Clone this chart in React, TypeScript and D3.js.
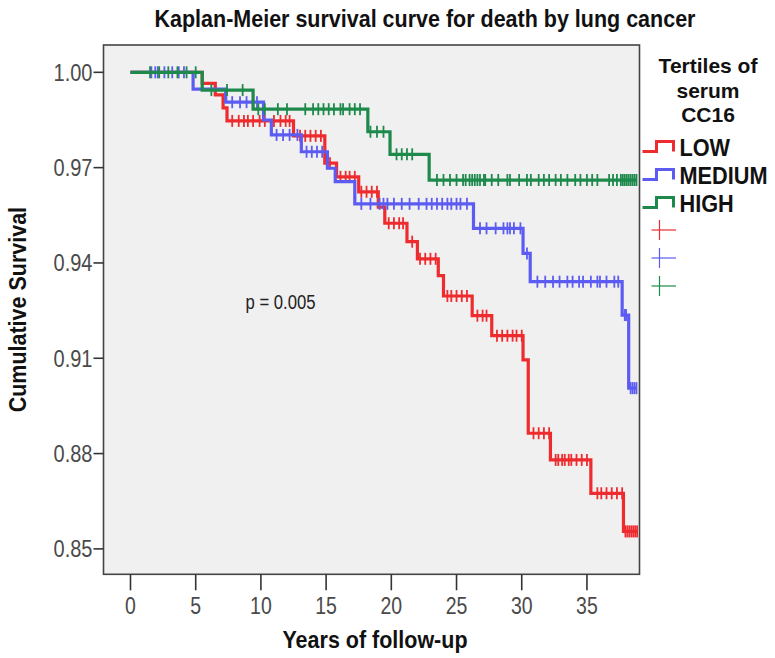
import React from 'react';
import * as d3 from 'd3';

// Kaplan-Meier: event times (years) and survival after each drop, per tertile
const lowTimes = [5.5, 6.5, 7.1, 7.4, 12.5, 14.9, 15.8, 17.5, 19.0, 19.5, 21.2, 22.0, 23.6, 24.0, 26.2, 27.7, 30.1, 30.5, 32.2, 35.3, 37.8];
const lowSurv = [0.9965, 0.9929, 0.9888, 0.9847, 0.980, 0.9714, 0.9671, 0.9624, 0.9576, 0.9525, 0.9467, 0.9413, 0.936, 0.9296, 0.9234, 0.9171, 0.9095, 0.8864, 0.878, 0.8675, 0.8555];
const lowEnd = 38.9;
const lowCensor = [7.8, 8.3, 8.7, 9.0, 9.4, 9.9, 10.3, 11.0, 11.5, 11.9, 12.2, 13.0, 13.4, 13.8, 14.2, 14.6, 15.3, 16.1, 16.5, 16.8, 17.2,
  17.7, 18.1, 18.5, 18.9, 19.8, 20.2, 20.6, 20.9, 21.6, 22.2, 22.6, 23.0, 23.4, 24.3, 24.6, 25.0, 25.4, 25.8, 26.6, 27.0, 27.3,
  28.1, 28.5, 28.9, 29.3, 29.6, 30.0, 30.9, 31.3, 31.7, 32.1, 32.6, 32.8, 33.1, 33.3, 33.6, 33.8, 34.2, 34.6, 35.0,
  35.8, 36.1, 36.5, 36.9, 37.3, 37.7, 37.95, 38.1, 38.25, 38.4, 38.55, 38.7, 38.85];

const medTimes = [4.8, 7.3, 10.2, 10.8, 13.1, 15.1, 15.7, 17.2, 26.3, 30.1, 30.65, 37.7, 38.2];
const medSurv = [0.9947, 0.9906, 0.985, 0.9803, 0.975, 0.9698, 0.9656, 0.9586, 0.9509, 0.943, 0.9341, 0.9236, 0.9006];
const medEnd = 38.8;
const medCensor = [1.6, 1.9, 2.1, 2.6, 3.2, 3.7, 4.1, 7.8, 8.4, 8.9, 9.7, 11.2, 11.7, 12.2, 12.8, 13.5, 13.9, 14.3, 14.7,
  17.7, 18.4, 19.1, 19.4, 19.7, 20.2, 20.8, 21.4, 22.1, 22.7, 23.1, 23.5, 23.9, 24.3, 24.6, 25.0, 25.3, 25.8,
  26.8, 27.3, 28.0, 28.6, 28.9, 29.1, 29.4, 29.9, 30.4, 31.2, 31.8, 32.4, 32.9, 33.5, 33.9, 34.4, 34.7, 35.3, 35.8, 36.0,
  36.5, 37.1, 37.4, 37.9, 38.0, 38.35, 38.5, 38.65, 38.8];

const highTimes = [5.5, 9.4, 18.2, 19.9, 22.9];
const highSurv = [0.9944, 0.9884, 0.9813, 0.9742, 0.9661];
const highEnd = 38.8;
const highCensor = [1.5, 2.2, 2.9, 3.6, 4.3, 5.0, 6.2, 7.4, 8.6, 9.8, 10.3, 11.3, 12.0, 13.4, 14.0, 14.4, 14.8, 15.2, 15.6, 16.1, 16.3, 16.8,
  17.2, 17.6, 18.4, 18.9, 19.4, 20.4, 20.8, 21.2, 21.6, 23.5, 24.0, 24.5, 25.0, 25.5, 25.7, 26.0, 26.2, 26.4, 26.6, 26.8, 27.1,
  27.2, 27.7, 28.2, 28.9, 29.1, 29.8, 30.4, 30.7, 31.3, 31.7, 32.1, 32.6, 33.0, 33.5, 34.1, 34.5, 35.0, 35.4, 35.8, 36.7, 37.0,
  37.3, 37.6, 37.75, 37.9, 38.05, 38.2, 38.35, 38.5, 38.65, 38.8];

const groups = ['LOW', 'MEDIUM', 'HIGH'];
const colors = ['#ee2b2e', '#5c5cf2', '#1d8a4c'];
const series = [
  { times: lowTimes, surv: lowSurv, end: lowEnd, censor: lowCensor },
  { times: medTimes, surv: medSurv, end: medEnd, censor: medCensor },
  { times: highTimes, surv: highSurv, end: highEnd, censor: highCensor },
];

const xTicks = [0, 5, 10, 15, 20, 25, 30, 35];
const yTicks = [0.85, 0.88, 0.91, 0.94, 0.97, 1.0];
const xDomain = [-2.07, 39.03];
const yDomain = [0.842, 1.0086];
const legendTitle = ['Tertiles of', 'serum', 'CC16'];

const W = 775, H = 658;
const frame = { left: 103.5, right: 639.5, top: 45, bottom: 574.3 };
const FONT = '"Liberation Sans", Arial, sans-serif';

function survAt(times: number[], surv: number[], t: number) {
  let s = 1;
  for (let i = 0; i < times.length; i++) if (times[i] <= t) s = surv[i];
  return s;
}

function T(props: { x: number; y: number; sx?: number; sy?: number; children: any; [k: string]: any }) {
  const { x, y, sx = 1, sy = 1, children, ...rest } = props;
  return (
    <text transform={`translate(${x},${y}) scale(${sx},${sy})`} fontFamily={FONT} {...rest}>
      {children}
    </text>
  );
}

export default function App() {
  const x = d3.scaleLinear().domain(xDomain).range([frame.left, frame.right]);
  const y = d3.scaleLinear().domain(yDomain).range([frame.bottom, frame.top]);
  const line = d3
    .line<[number, number]>()
    .x((d) => x(d[0]))
    .y((d) => y(d[1]))
    .curve(d3.curveStepAfter);

  return (
    <svg width={W} height={H} style={{ position: 'absolute', left: 0, top: 0, background: '#fff' }}>
      <T x={425} y={27} sy={1.12} fontSize={21.5} fontWeight="bold" textAnchor="middle" fill="#111">
        Kaplan-Meier survival curve for death by lung cancer
      </T>

      <rect x={frame.left} y={frame.top} width={frame.right - frame.left} height={frame.bottom - frame.top}
        fill="#f0f0f0" stroke="#444" strokeWidth={1.6} />

      {yTicks.map((t) => (
        <g key={t}>
          <line x1={frame.left - 10} x2={frame.left} y1={y(t)} y2={y(t)} stroke="#333" strokeWidth={1.6} />
          <T x={frame.left - 11} y={y(t) + 8.5} sy={1.2} fontSize={20} textAnchor="end" fill="#4a4a4a">
            {d3.format('.2f')(t)}
          </T>
        </g>
      ))}
      {xTicks.map((t) => (
        <g key={t}>
          <line x1={x(t)} x2={x(t)} y1={frame.bottom} y2={frame.bottom + 16} stroke="#333" strokeWidth={1.6} />
          <T x={x(t)} y={frame.bottom + 40} sy={1.2} fontSize={19.5} textAnchor="middle" fill="#4a4a4a">
            {t}
          </T>
        </g>
      ))}

      <T x={375} y={648} sy={1.12} fontSize={21.5} fontWeight="bold" textAnchor="middle" fill="#111">
        Years of follow-up
      </T>
      <g transform={`translate(26,${(frame.top + frame.bottom) / 2}) rotate(-90)`}>
        <T x={0} y={0} sy={1.12} fontSize={21.5} fontWeight="bold" textAnchor="middle" fill="#111">
          Cumulative Survival
        </T>
      </g>

      <T x={245.5} y={309} sy={1.2} fontSize={16.7} fill="#222">
        p = 0.005
      </T>

      {series.map((s, i) => {
        const pts: [number, number][] = [[0, 1]];
        s.times.forEach((t, j) => pts.push([t, s.surv[j]]));
        pts.push([s.end, s.surv[s.surv.length - 1]]);
        return (
          <g key={groups[i]}>
            <path d={line(pts) || ''} fill="none" stroke={colors[i]} strokeWidth={3.2} />
            {s.censor.map((c, k) => {
              const cy = y(survAt(s.times, s.surv, c));
              return <line key={k} x1={x(c)} x2={x(c)} y1={cy - 6} y2={cy + 6} stroke={colors[i]} strokeWidth={1.8} />;
            })}
          </g>
        );
      })}

      {/* legend */}
      {legendTitle.map((s, i) => (
        <T key={s} x={708} y={73 + i * 24.5} fontSize={21} fontWeight="bold" textAnchor="middle" fill="#111">{s}</T>
      ))}
      {groups.map((g, i) => {
        const cy = 147 + i * 28;
        return (
          <g key={g}>
            <path d={`M642.5,${cy + 4.5}H656.5V${cy - 5.5}H673.5V${cy + 4.5}`} fill="none" stroke={colors[i]} strokeWidth={3} />
            <T x={679.5} y={cy + 8.5} sy={1.1} fontSize={21.7} fontWeight="bold" fill="#111">{g}</T>
          </g>
        );
      })}
      {groups.map((g, i) => {
        const cy = 230 + i * 28;
        return (
          <g key={'c' + g}>
            <line x1={651.5} x2={676} y1={cy} y2={cy} stroke={colors[i]} strokeWidth={1.2} />
            <line x1={659.5} x2={659.5} y1={cy - 10} y2={cy + 10} stroke={colors[i]} strokeWidth={1.2} />
          </g>
        );
      })}
    </svg>
  );
}
